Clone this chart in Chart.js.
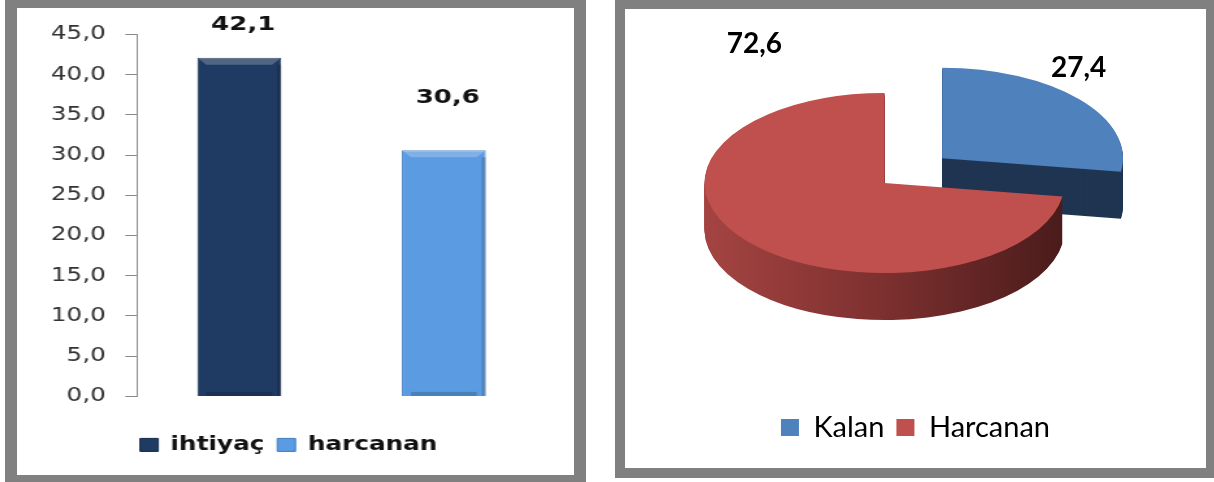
<!DOCTYPE html>
<html>
<head>
<meta charset="utf-8">
<script src="https://cdn.jsdelivr.net/npm/chart.js@4.4.1/dist/chart.umd.min.js"></script>
<style>
html, body { margin: 0; padding: 0; background: #fff; }
body { width: 1214px; height: 482px; position: relative; overflow: hidden; }
.frame { position: absolute; box-sizing: border-box; border: solid #808080; background: #fff; }
#left { left: 5px; top: 0; width: 581px; height: 482px; border-width: 8px 12px 7px 12px; }
#right { left: 615px; top: 0; width: 599px; height: 478px; border-width: 9px 8px 10px 10px; }
/* the left chart is drawn narrow and stretched sideways, like the reference */
#barWrap { position: absolute; left: 0; top: 0; width: 428px; height: 467px; transform: scaleX(1.3); transform-origin: 0 0; }
#pieWrap { position: absolute; left: 0; top: 0; width: 581px; height: 459px; }
</style>
</head>
<body>
<div class="frame" id="left"><div id="barWrap"><canvas id="bars"></canvas></div></div>
<div class="frame" id="right"><div id="pieWrap"><canvas id="pie"></canvas></div></div>

<script>
// --- data ---
const barCategories = ['ihtiyaç', 'harcanan'];
const barValues = [42.1, 30.6];
const barColors = ['#1F3B63', '#5B9BE1'];
const barEdges = ['#142846', '#3F7DC0'];
const yMin = 0, yMax = 45, yStep = 5;

const pieLabels = ['Kalan', 'Harcanan'];
const pieValues = [27.4, 72.6];
const pieColors = ['#4F81BD', '#C0504D'];

const fmt = v => Number(v).toFixed(1).replace('.', ',');

// bevel highlight + value labels on bars
const barDecor = {
    id: 'barDecor',
    afterDatasetsDraw(chart, args, opts) {
        const ctx = chart.ctx;
        chart.data.datasets.forEach((ds, i) => {
            chart.getDatasetMeta(i).data.forEach((bar, j) => {
                if (ds.data[j] == null) return;
                const {x, y, width, base} = bar;
                const l = x - width / 2, r = x + width / 2, h = opts.bevel;
                ctx.save();
                ctx.fillStyle = 'rgba(255,255,255,0.22)';
                ctx.beginPath();
                ctx.moveTo(l, y); ctx.lineTo(r, y); ctx.lineTo(r - h, y + h); ctx.lineTo(l + h, y + h);
                ctx.closePath(); ctx.fill();
                ctx.fillStyle = 'rgba(0,0,0,0.18)';
                ctx.fillRect(r - 3, y + h, 3, base - y - h);
                ctx.fillRect(l + h, base - 4, width - 2 * h, 4);
                ctx.fillStyle = '#111';
                ctx.font = 'bold 20px "DejaVu Sans"';
                ctx.textAlign = 'center';
                ctx.textBaseline = 'middle';
                ctx.fillText(fmt(ds.data[j]), x + 3, Math.max(y - opts.gap, opts.minY));
                ctx.restore();
            });
        });
    }
};

new Chart(document.getElementById('bars'), {
    type: 'bar',
    data: {
        labels: barCategories,
        datasets: barCategories.map((name, i) => ({
            label: name,
            data: barValues.map((v, j) => (j === i ? v : null)),
            backgroundColor: barColors[i],
            borderColor: barEdges[i],
            borderWidth: 1,
            barPercentage: 0.41,
            categoryPercentage: 1
        }))
    },
    options: {
        responsive: true, maintainAspectRatio: false, animation: false,
        skipNull: true,
        layout: { padding: { left: 11, right: 21, top: 19, bottom: 10.6 } },
        scales: {
            x: {
                display: true,
                grid: { display: false },
                border: { display: false },
                ticks: { display: false },
                afterFit(s) { s.height = 29; }
            },
            y: {
                min: yMin, max: yMax,
                border: { display: true, color: '#8a8a8a' },
                grid: { drawOnChartArea: false, drawTicks: true, tickLength: 9, color: '#8a8a8a' },
                ticks: {
                    stepSize: yStep, padding: 15, color: '#333',
                    font: { family: 'DejaVu Sans', size: 19 },
                    callback: v => fmt(v)
                }
            }
        },
        plugins: {
            legend: {
                position: 'bottom',
                labels: {
                    color: '#111', boxWidth: 14, boxHeight: 13, padding: 10,
                    font: { family: 'DejaVu Sans', size: 19, weight: 'bold' }
                }
            },
            tooltip: { enabled: false },
            barDecor: { bevel: 7, gap: 52, minY: 17 }
        }
    },
    plugins: [barDecor]
});

// fake 3D pie: library arcs squashed vertically and stacked for depth
const pie3d = {
    id: 'pie3d',
    beforeDatasetsDraw(chart, args, opts) {
        const ctx = chart.ctx;
        const arcs = chart.getDatasetMeta(0).data;
        const cx = arcs[0].x, cy = arcs[0].y, r = arcs[0].outerRadius;
        const sides = opts.sides.map(c => {
            if (!Array.isArray(c)) return c;
            const g = ctx.createLinearGradient(cx - r, 0, cx + r, 0);
            c.forEach((col, k) => g.addColorStop(k / (c.length - 1), col));
            return g;
        });
        const paint = (dy, colors) => {
            arcs.forEach((arc, i) => {
                const o = arc.options, keep = o.backgroundColor;
                o.backgroundColor = colors[i];
                ctx.save();
                ctx.translate(cx + opts.shiftX, cy + opts.shiftY + dy);
                ctx.scale(1, opts.tilt);
                ctx.translate(-cx, -cy);
                arc.draw(ctx);
                ctx.restore();
                o.backgroundColor = keep;
            });
        };
        for (let d = opts.depth; d > 0; d--) paint(d, sides);
        paint(0, arcs.map(a => a.options.backgroundColor));
        return false;
    },
    afterDraw(chart, args, opts) {
        const ctx = chart.ctx;
        const arcs = chart.getDatasetMeta(0).data;
        const values = chart.data.datasets[0].data;
        arcs.forEach((arc, i) => {
            const mid = (arc.startAngle + arc.endAngle) / 2;
            const off = (arc.options.offset || 0) / 4;
            const ax = arc.x + Math.cos(mid) * off, ay = arc.y + Math.sin(mid) * off;
            const a = opts.labels[i].angle * Math.PI / 180, k = opts.labels[i].dist * arc.outerRadius;
            const px = ax + Math.cos(a) * k, py = ay + Math.sin(a) * k;
            ctx.save();
            ctx.fillStyle = '#000';
            ctx.font = 'bold 28px Lato';
            ctx.textAlign = 'center';
            ctx.textBaseline = 'middle';
            ctx.fillText(fmt(values[i]), px + opts.shiftX, arc.y + opts.shiftY + (py - arc.y) * opts.tilt);
            ctx.restore();
        });
    }
};

new Chart(document.getElementById('pie'), {
    type: 'pie',
    data: {
        labels: pieLabels,
        datasets: [{
            data: pieValues,
            backgroundColor: pieColors,
            borderWidth: 0,
            offset: [304, 0],
            radius: 180
        }]
    },
    options: {
        responsive: true, maintainAspectRatio: false, animation: false,
        layout: { padding: { top: 0, bottom: 16, left: 0, right: 0 } },
        plugins: {
            legend: {
                position: 'bottom',
                labels: {
                    color: '#000', boxWidth: 18, boxHeight: 17, padding: 12,
                    font: { family: 'Lato', size: 29 }
                }
            },
            tooltip: { enabled: false },
            pie3d: {
                tilt: 0.5, depth: 47, shiftX: -31, shiftY: -22,
                sides: ['#1F3552', ['#A44442', '#7C302F', '#4A1B1B']],
                labels: [{ angle: -53, dist: 1.26 }, { angle: -115, dist: 1.71 }]
            }
        }
    },
    plugins: [pie3d]
});
</script>
</body>
</html>
